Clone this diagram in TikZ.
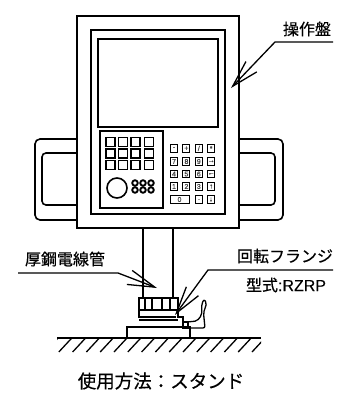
\documentclass[tikz,border=0pt]{standalone}
\usepackage{fontspec}
\setmainfont{Noto Sans CJK JP}[FakeBold=0.4]
\newfontfamily\latinlab[FakeBold=0.2]{Liberation Sans}
\usetikzlibrary{arrows.meta}

\tikzset{
  panel/.style={draw, line width=1.6pt},
  softkey/.style={draw, line width=1.7pt, minimum size=8.8pt, inner sep=0pt},
  numkey/.style={draw, line width=.9pt, minimum width=7pt, minimum height=7.5pt, inner sep=0pt, font=\latinlab\fontsize{7}{7}\selectfont, text=black!75},
  dotkey/.style={circle, draw, line width=1.9pt, minimum size=5.5pt, inner sep=0pt},
  leader/.style={line width=1.3pt, -{Straight Barb[length=27pt, width=15pt]}},
  caption/.style={font=\fontsize{16}{16}\selectfont, inner sep=0pt},
}

\begin{document}
\begin{tikzpicture}[x=1pt, y=-1pt]
  \useasboundingbox (0,0) rectangle (344,394);

  % side handles
  \draw[panel, rounded corners=5pt] (77,139) -- (35,139) -- (35,220) -- (77,220);
  \draw[panel, rounded corners=4pt] (77,153) -- (42,153) -- (42,205) -- (77,205);
  \draw[panel, rounded corners=5pt] (239,139) -- (283,139) -- (283,220) -- (239,220);
  \draw[panel, rounded corners=4pt] (239,153) -- (275,153) -- (275,205) -- (239,205);

  % panel
  \draw[panel] (77,16) rectangle (239,228);
  \draw[panel] (91,30) rectangle (225,214);
  \draw[panel] (98,39) rectangle (218,127);
  \draw[panel] (100,131) rectangle (163,208);

  % soft keys
  \foreach \y in {142,153.5,165}
    \foreach \x in {110.5,123,135.5,149}
      \node[softkey] (s\x-\y) at (\x,\y) {};
  \node[circle, panel, minimum size=20pt, inner sep=0pt] (dial) at (117,188) {};
  \foreach \y in {183,190}
    \foreach \x in {135,143,151}
      \node[dotkey] (d\x-\y) at (\x,\y) {};

  % number keys
  \foreach \lab [count=\i] in {-,+,/,*}
    \node[numkey] (a\i) at (174+12.4*\i-12.4,148.5) {\lab};
  \foreach \lab [count=\i] in {7,8,9,→}
    \node[numkey] (b\i) at (174+12.4*\i-12.4,161.5) {\lab};
  \foreach \lab [count=\i] in {4,5,6,←}
    \node[numkey] (c\i) at (174+12.4*\i-12.4,174) {\lab};
  \foreach \lab [count=\i] in {1,2,3,↑}
    \node[numkey] (e\i) at (174+12.4*\i-12.4,186.5) {\lab};
  \node[numkey, minimum width=19pt] (zero) at (179.5,199.5) {0};
  \node[numkey] (point) at (199,199.5) {.};
  \node[numkey] (down) at (211,199.5) {↓};

  % stand
  \draw[panel] (143,228) -- (143,298);
  \draw[panel] (173,228) -- (173,298);

  % flange
  \draw[panel] (139,318) -- (139,298) -- (178,298) -- (178,318);
  \foreach \x in {145,152,162,170}
    \draw[line width=1.3pt] (\x,298) -- (\x,310);
  \draw[line width=1.3pt] (139,310) -- (178,310);
  \draw[line width=2.4pt] (139,317) -- (176,317);
  \draw[line width=1.3pt] (139,320) -- (178,320);
  \draw[line width=1.3pt] (178,317) -- (183,317) -- (183,327);
  \draw[panel] (127,338) -- (127,327) -- (190,327) -- (190,338);
  \draw[line width=1.8pt] (183,322) rectangle (188,328);
  \draw[line width=1.3pt, rounded corners=2pt] (187,322) -- (197,321) -- (201.7,315) -- (201.7,304) -- (204,299.3)
    -- (206.7,303) -- (203.5,313) -- (205,328) -- (190,328);

  % floor
  \draw[line width=1.5pt] (57,338) -- (261,338);
  \begin{scope}
    \clip (57,338) rectangle (261,353);
    \foreach \n in {0,...,15}
      \draw[line width=1.3pt] (58+13.8*\n,338) -- (45+13.8*\n,352);
  \end{scope}

  % labels
  \node[caption] (opLabel) at (307,29) {操作盤};
  \node[caption] (pipeLabel) at (65,259) {厚鋼電線管};
  \node[caption] (flangeLabel) at (285,256) {回転フランジ};
  \node[caption] (typeLabel) at (286,285) {型式{\latinlab:RZRP}};
  \node[caption, font=\fontsize{18.5}{18.5}\selectfont] (useLabel) at (161,381) {使用方法：スタンド};

  % leaders
  \coordinate (opEnd) at (333,42);
  \coordinate (opKnee) at (275,42);
  \coordinate (opTip) at (231,88);
  \coordinate (pipeEnd) at (18,273);
  \coordinate (pipeKnee) at (118,273);
  \coordinate (pipeTip) at (157,288);
  \coordinate (flangeEnd) at (333,270);
  \coordinate (flangeKnee) at (208,270);
  \coordinate (flangeTip) at (175,315);
  \draw[leader] (opEnd) -- (opKnee) -- (opTip);
  \draw[leader] (pipeEnd) -- (pipeKnee) -- (pipeTip);
  \draw[leader] (flangeEnd) -- (flangeKnee) -- (flangeTip);
\end{tikzpicture}
\end{document}
